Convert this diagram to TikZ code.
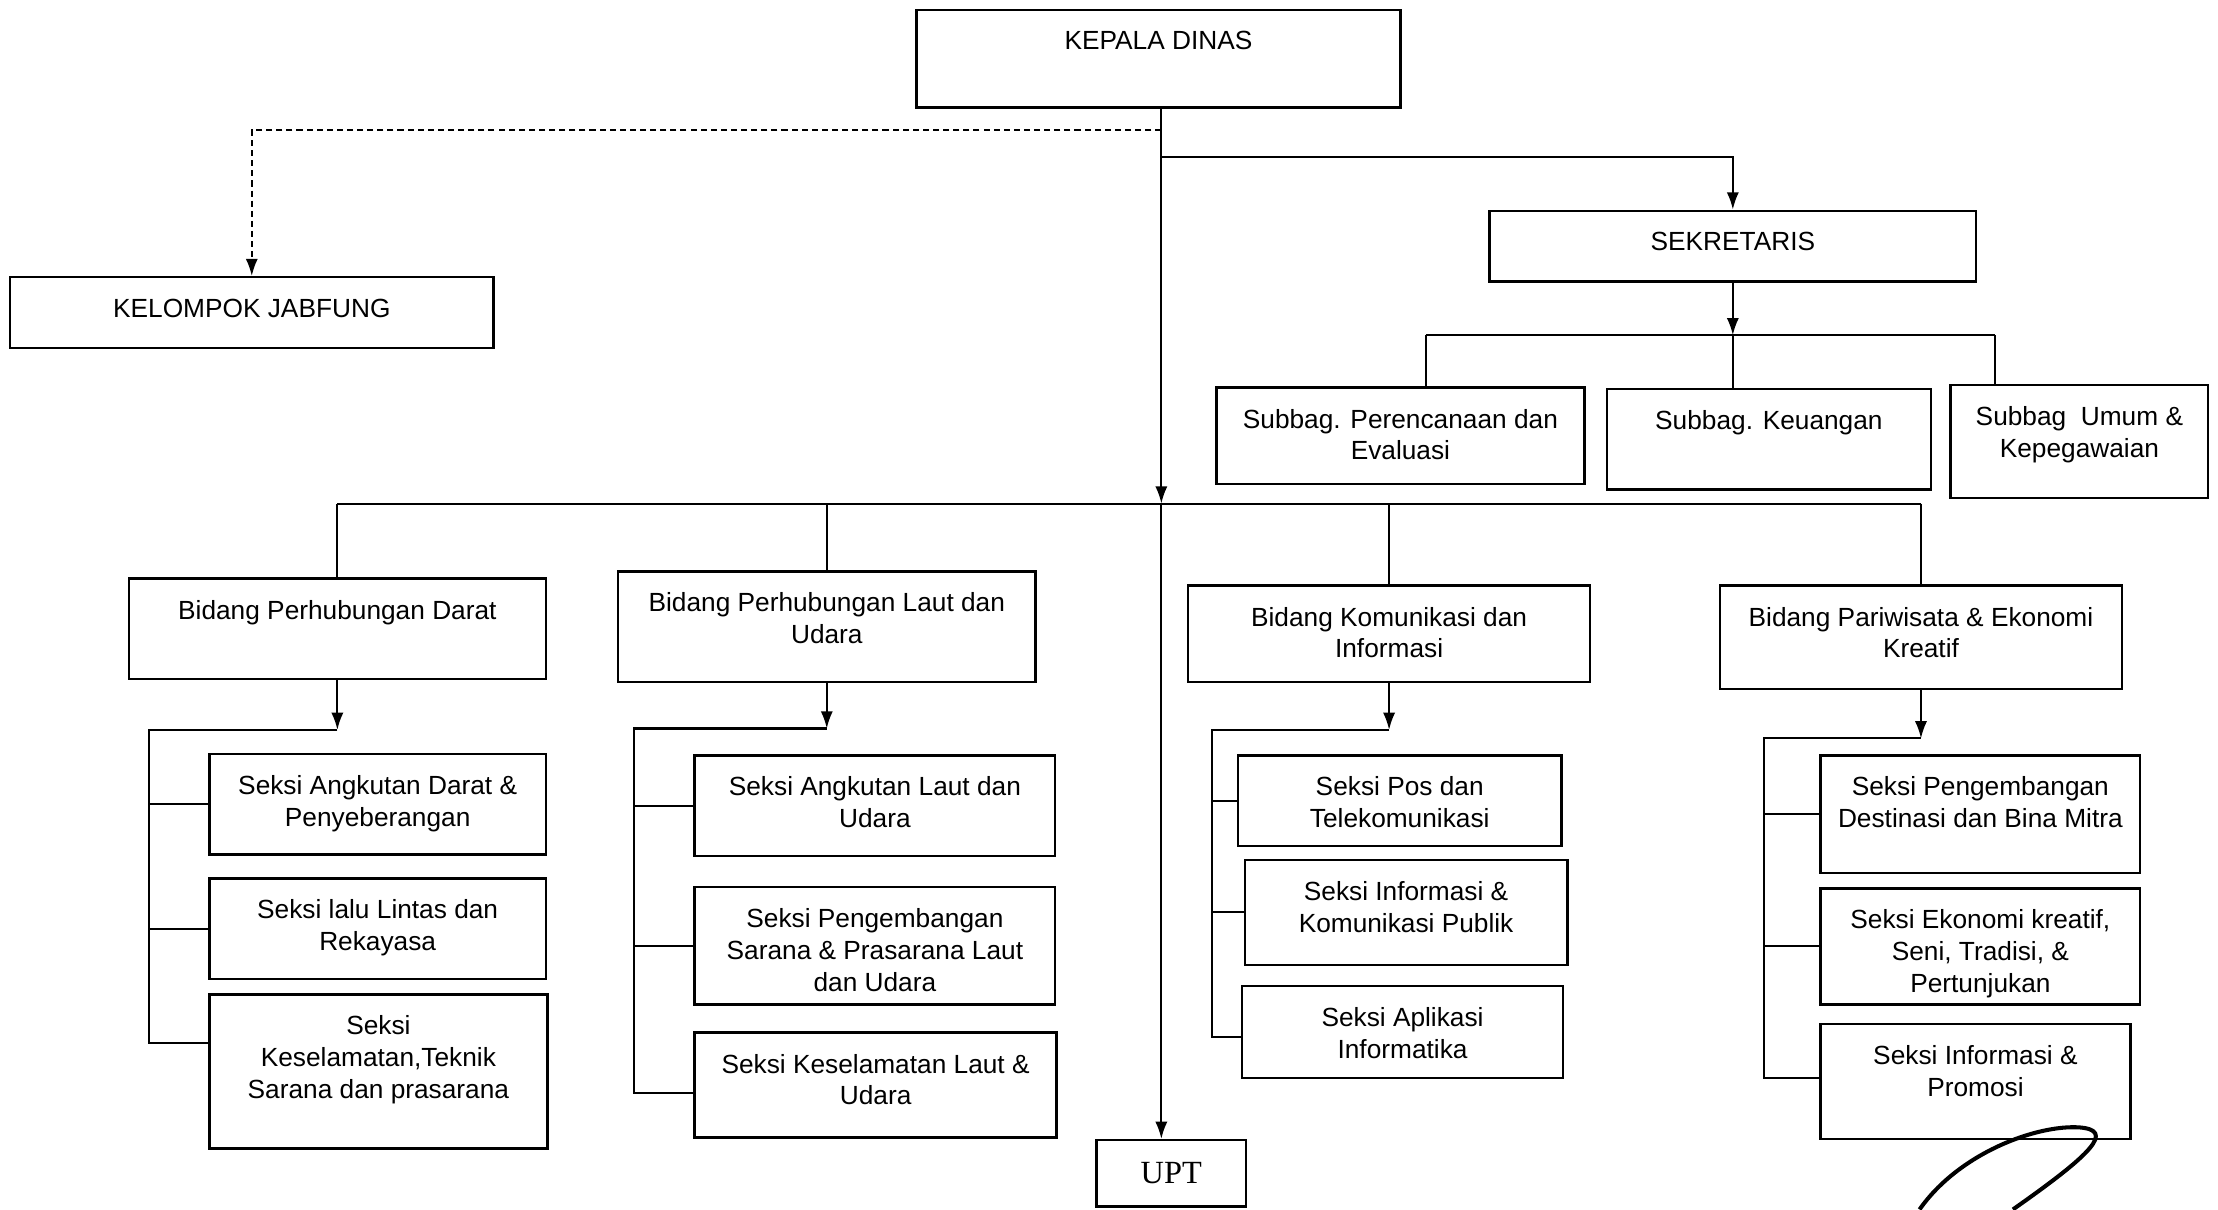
\documentclass[tikz,border=0pt]{standalone}
\usepackage{fontspec}
\setmainfont{Liberation Sans}
\newfontfamily\uptfont{Liberation Serif}
\usetikzlibrary{arrows.meta,fit}

\tikzset{
	box/.style={draw,line width=1.2pt,inner sep=0pt},
	txt/.style={anchor=north,align=center,inner sep=0pt,yshift=-11pt,font=\fontsize{13}{15.75}\selectfont},
	link/.style={line width=1pt},
	arrow/.style={link,-{Latex[length=8.5pt,width=6pt]}},
	jab/.style={link,dash pattern=on 3pt off 2pt},
}

\begin{document}
\begin{tikzpicture}[x=0.7pt,y=-0.7pt]
	\useasboundingbox (0,0) rectangle (1568,855);
	% pimpinan
	\node[box,fit={(648,7) (990,76)},label={[txt]north:KEPALA DINAS}] (kd) {};
	\node[box,fit={(7,196) (349,246)},label={[txt]north:KELOMPOK JABFUNG}] (kjf) {};
	\node[box,fit={(1053,149) (1397,199)},label={[txt]north:SEKRETARIS}] (sek) {};
	\node[box,fit={(860,274) (1120,342)},label={[txt]north:{Subbag. Perencanaan dan\\Evaluasi}}] (sbp) {};
	\node[box,fit={(1136,275) (1365,346)},label={[txt]north:{Subbag. Keuangan}}] (sbk) {};
	\node[box,fit={(1379,272) (1561,352)},label={[txt]north:{Subbag\ \ Umum \&\\Kepegawaian}}] (sbu) {};
	% bidang
	\node[box,fit={(91,409) (386,480)},label={[txt]north:{Bidang Perhubungan Darat}}] (bpd) {};
	\node[box,fit={(437,404) (732,482)},label={[txt]north:{Bidang Perhubungan Laut dan\\Udara}}] (bpl) {};
	\node[box,fit={(840,414) (1124,482)},label={[txt]north:{Bidang Komunikasi dan\\Informasi}}] (bki) {};
	\node[box,fit={(1216,414) (1500,487)},label={[txt]north:{Bidang Pariwisata \& Ekonomi\\Kreatif}}] (bpw) {};
	% seksi
	\node[box,fit={(148,533) (386,604)},label={[txt]north:{Seksi Angkutan Darat \&\\Penyeberangan}}] (sd1) {};
	\node[box,fit={(148,621) (386,692)},label={[txt]north:{Seksi lalu Lintas dan\\Rekayasa}}] (sd2) {};
	\node[box,fit={(148,703) (387,812)},label={[txt]north:{Seksi\\Keselamatan,Teknik\\Sarana dan prasarana}}] (sd3) {};
	\node[box,fit={(491,534) (746,605)},label={[txt]north:{Seksi Angkutan Laut dan\\Udara}}] (sl1) {};
	\node[box,fit={(491,627) (746,710)},label={[txt]north:{Seksi Pengembangan\\Sarana \& Prasarana Laut\\dan Udara}}] (sl2) {};
	\node[box,fit={(491,730) (747,804)},label={[txt]north:{Seksi Keselamatan Laut \&\\Udara}}] (sl3) {};
	\node[box,fit={(875,534) (1104,598)},label={[txt]north:{Seksi Pos dan\\Telekomunikasi}}] (sk1) {};
	\node[box,fit={(880,608) (1108,682)},label={[txt]north:{Seksi Informasi \&\\Komunikasi Publik}}] (sk2) {};
	\node[box,fit={(878,697) (1105,762)},label={[txt]north:{Seksi Aplikasi\\Informatika}}] (sk3) {};
	\node[box,fit={(1287,534) (1513,617)},label={[txt]north:{Seksi Pengembangan\\Destinasi dan Bina Mitra}}] (sp1) {};
	\node[box,fit={(1287,628) (1513,710)},label={[txt]north:{Seksi Ekonomi kreatif,\\Seni, Tradisi, \&\\Pertunjukan}}] (sp2) {};
	\node[box,fit={(1287,724) (1506,805)},label={[txt]north:{Seksi Informasi \&\\Promosi}}] (sp3) {};
	\node[box,fit={(775,806) (881,853)},label={[anchor=center,inner sep=0pt,font=\uptfont\fontsize{16}{16}\selectfont]center:UPT}] (upt) {};

	% garis komando
	\coordinate (sp) at (821,0);
	\coordinate (jj) at (821,92);
	\coordinate (js) at (821,111);
	\coordinate (busA) at (821,356);
	\draw[jab,arrow] (jj) -| (kjf.north);
	\draw[arrow] (js) -| (sek.north);
	\draw[arrow] (kd.south -| sp) -- (busA);
	\draw[arrow] (busA) -- (busA |- upt.north);
	\draw[link] (bpd.north |- busA) -- (bpw.north |- busA);
	\draw[link] (bpd.north |- busA) -- (bpd.north);
	\draw[link] (bpl.north |- busA) -- (bpl.north);
	\draw[link] (bki.north |- busA) -- (bki.north);
	\draw[link] (bpw.north |- busA) -- (bpw.north);

	% sekretariat
	\coordinate (busB) at (1228,237);
	\coordinate (sbL) at (1008,237);
	\coordinate (sbR) at (1410,237);
	\draw[arrow] (sek.south) -- (sek.south |- busB);
	\draw[link] (sbL) -- (sbR);
	\draw[link] (sbL) -- (sbL |- sbp.north);
	\draw[link] (sek.south |- busB) -- (sek.south |- sbk.north);
	\draw[link] (sbR) -- (sbR |- sbu.north);

	% darat
	\coordinate (dA) at (105,516);
	\coordinate (dB) at (105,737);
	\draw[arrow] (bpd.south) -- (bpd.south |- dA);
	\draw[link] (bpd.south |- dA) -- (dA) -- (dB) -- (dB -| sd3.west);
	\draw[link] (dA |- sd1.west) -- (sd1.west);
	\draw[link] (dA |- sd2.west) -- (sd2.west);

	% laut dan udara
	\coordinate (lA) at (448,515);
	\coordinate (lB) at (448,773);
	\draw[arrow] (bpl.south) -- (bpl.south |- lA);
	\draw[link] (bpl.south |- lA) -- (lA) -- (lB) -- (lB -| sl3.west);
	\draw[link] (lA |- sl1.west) -- (sl1.west);
	\draw[link] (lA |- sl2.west) -- (sl2.west);

	% komunikasi
	\coordinate (kA) at (857,516);
	\coordinate (kB) at (857,733);
	\draw[arrow] (bki.south) -- (bki.south |- kA);
	\draw[link] (bki.south |- kA) -- (kA) -- (kB) -- (kB -| sk3.west);
	\draw[link] (kA |- sk1.west) -- (sk1.west);
	\draw[link] (kA |- sk2.west) -- (sk2.west);

	% pariwisata
	\coordinate (pA) at (1247,522);
	\coordinate (pB) at (1247,762);
	\draw[arrow] (bpw.south) -- (bpw.south |- pA);
	\draw[link] (bpw.south |- pA) -- (pA) -- (pB) -- (pB -| sp3.west);
	\draw[link] (pA |- sp1.west) -- (sp1.west);
	\draw[link] (pA |- sp2.west) -- (sp2.west);

	% paraf
	\draw[line width=2pt] (1357,855) .. controls (1385,815) and (1440,795) .. (1470,797) .. controls (1495,799) and (1480,815) .. (1423,855);
\end{tikzpicture}
\end{document}
